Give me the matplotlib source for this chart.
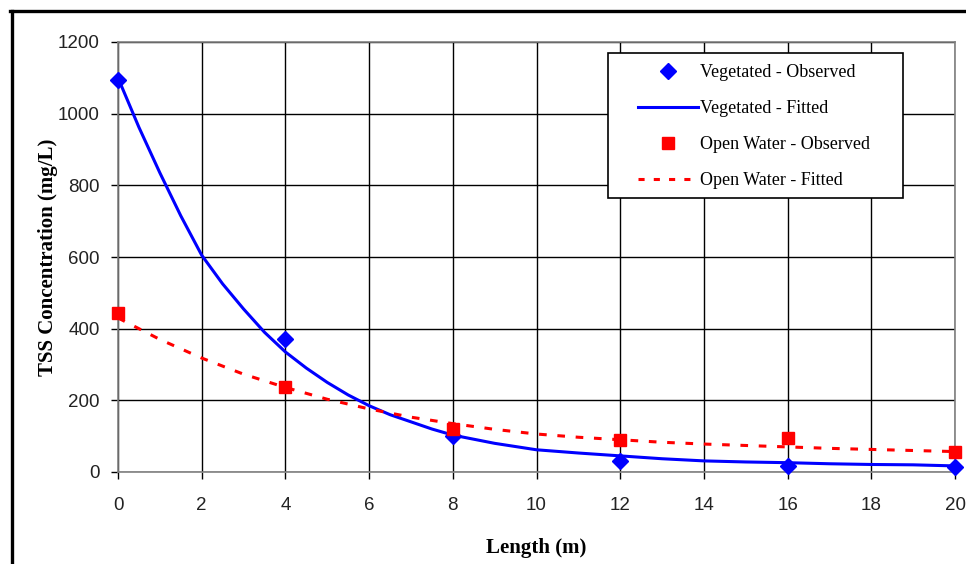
import matplotlib
matplotlib.use('Agg')
import matplotlib.pyplot as plt
from matplotlib.lines import Line2D
from matplotlib.patches import Rectangle

# Observed data
obs_x = [0, 4, 8, 12, 16, 20]
veg_obs = [1095, 372, 100, 30, 18, 15]
open_obs = [443, 238, 120, 90, 95, 57]

# Fitted curves
veg_fit_x = [0, 0.5, 1, 1.5, 2, 2.5, 3, 3.5, 4, 4.5, 5, 5.5, 6, 6.5, 7, 7.5, 8,
             9, 10, 11, 12, 13, 14, 15, 16, 17, 18, 19, 20]
veg_fit = [1100, 962, 835, 715, 605, 525, 455, 390, 335, 290, 250, 215, 185,
           160, 140, 120, 103, 80, 62, 53, 45, 37, 31, 28, 26, 23, 21, 20, 17]
open_fit_x = list(range(0, 21))
open_fit = [430, 370, 318, 273, 236, 203, 176, 153, 135, 119, 106,
            97, 90, 83, 78, 74, 70, 66, 63, 60, 57]

xticks = list(range(0, 21, 2))
yticks = list(range(0, 1201, 200))

serif = 'Liberation Serif'
sans = 'Liberation Sans'

fig = plt.figure(figsize=(9.66, 5.64), dpi=100)
ax = fig.add_axes([118 / 966, 1 - 472 / 564, 837 / 966, 430 / 564])

ax.plot(veg_fit_x, veg_fit, color='#0000ff', lw=2.2, zorder=3, solid_joinstyle='round')
ax.plot(open_fit_x, open_fit, color='#ff0000', lw=2.2, ls=(0, (2.5, 3.5)), zorder=3)
ax.plot(obs_x, veg_obs, 'D', color='#0000ff', ms=8.5, zorder=4, clip_on=False)
ax.plot(obs_x, open_obs, 's', color='#ff0000', ms=8.5, zorder=4, clip_on=False)

ax.set_xlim(0, 20)
ax.set_ylim(0, 1200)
ax.set_xticks(xticks)
ax.set_yticks(yticks)
ax.grid(True, color='black', lw=1.0)
ax.set_axisbelow(True)
for s in ax.spines.values():
    s.set_color('#808080')
    s.set_linewidth(1.2)
ax.tick_params(axis='both', direction='out', length=5, width=1, color='black',
               labelsize=13.5)
ax.tick_params(axis='x', pad=13)
ax.tick_params(axis='y', pad=8)
for lab in ax.get_xticklabels() + ax.get_yticklabels():
    lab.set_fontfamily(sans)
    lab.set_color('#222222')

ax.set_xlabel('Length (m)', fontfamily=serif, fontweight='bold', fontsize=15, labelpad=17)
ax.set_ylabel('TSS Concentration (mg/L)', fontfamily=serif, fontweight='bold',
              fontsize=15, va='center')
ax.yaxis.set_label_coords((48 - 118) / 837, 0.5)

# Legend box drawn by hand so it sits where the original does
x0 = (608 - 118) / 837
y0 = (472 - 198) / 430
w = (903 - 608) / 837
h = (198 - 53) / 430
ax.add_patch(Rectangle((x0, y0), w, h, transform=ax.transAxes, facecolor='white',
                       edgecolor='black', lw=1.2, zorder=6, clip_on=False))

handles = [
    Line2D([], [], ls='none', marker='D', color='#0000ff', ms=8),
    Line2D([], [], color='#0000ff', lw=2.2),
    Line2D([], [], ls='none', marker='s', color='#ff0000', ms=8),
    Line2D([], [], color='#ff0000', lw=2.2, ls=(0, (2.0, 3.0))),
]
labels = ['Vegetated - Observed', 'Vegetated - Fitted',
          'Open Water - Observed', 'Open Water - Fitted']
leg = ax.legend(handles, labels, loc='upper left',
                bbox_to_anchor=((638 - 118) / 837, (472 - 64) / 430),
                frameon=False, borderaxespad=0, borderpad=0,
                handlelength=3.3, handletextpad=0.12, labelspacing=1.05,
                prop={'family': serif, 'size': 13})
leg.set_zorder(7)

# Outer frame (left and top edges visible)
fig.add_artist(Line2D([11.5 / 966, 11.5 / 966], [0, 1 - 11 / 564], color='black', lw=2.4))
fig.add_artist(Line2D([10 / 966, 1], [1 - 11 / 564, 1 - 11 / 564], color='black', lw=2.4))

fig.savefig('out.png', dpi=100)
